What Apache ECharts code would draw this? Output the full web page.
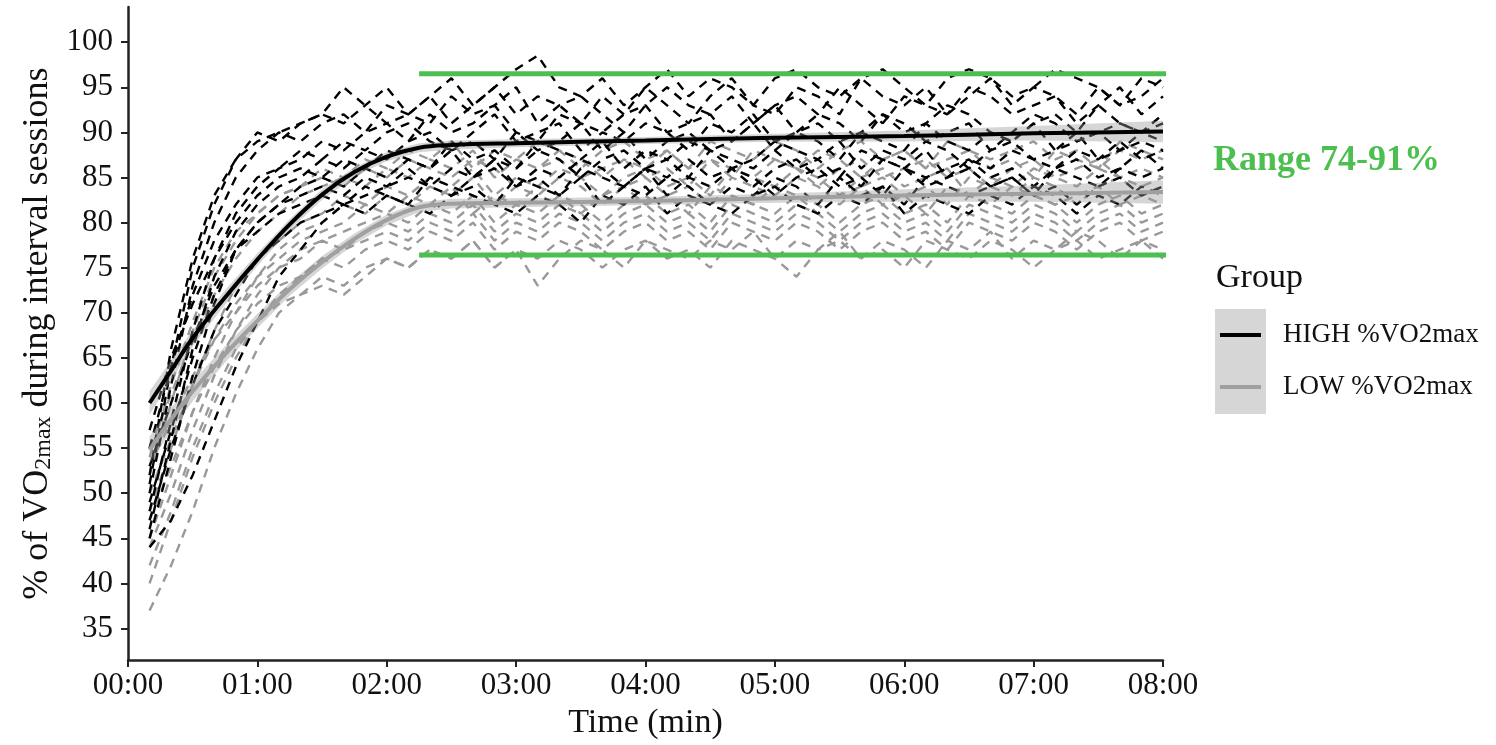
<!DOCTYPE html>
<html>
<head>
<meta charset="utf-8">
<title>%VO2max during interval sessions</title>
<script src="https://cdn.jsdelivr.net/npm/echarts@6/dist/echarts.min.js"></script>
<style>
  html, body { margin: 0; padding: 0; background: #fff; }
  #chart { width: 1496px; height: 745px; }
</style>
</head>
<body>
<div id="chart"></div>
<script>
// Sample times (seconds) for each interval session trace
const timeSec = [10,20,30,40,50,60,70,80,90,100,110,120,130,140,150,160,170,180,190,200,210,220,230,240,
                 250,260,270,280,290,300,310,320,330,340,350,360,370,380,390,400,410,420,430,440,450,460,470,480];

// HIGH %VO2max group: individual sessions (% of VO2max)
const highSessions = [
  [52,66,76,83,87,89,90,91,92,95,93,91,92,94,96,93,95,97,98.5,95,94,96,93,95,97,94,96,95,93,96,97,95,94,96,97,95,93,96,97,96,94,95,97,96,95,93,96,95],
  [50,62,73,80,85,88,90,89,91,92,90,93,92,91,94,92,93,95,91,93,94,92,90,93,95,93,92,94,91,93,94,92,95,93,91,94,93,92,95,94,92,93,94,91,93,95,92,94],
  [48,58,68,76,81,84,86,87,89,88,90,91,89,92,90,91,93,90,89,92,91,90,92,93,90,91,92,89,91,93,90,92,91,89,92,90,91,93,92,90,89,91,92,90,93,91,90,92],
  [55,64,72,78,82,85,86,88,87,89,88,90,91,89,88,90,92,89,90,91,88,90,89,91,90,88,91,90,92,89,90,91,89,90,92,91,89,90,91,88,90,92,91,89,90,91,90,89],
  [46,56,66,74,79,82,84,85,87,86,88,87,89,90,88,89,87,90,88,89,91,88,90,87,89,90,88,89,91,88,90,89,87,90,89,88,91,89,88,90,89,91,88,89,90,88,90,91],
  [57,65,71,76,80,83,85,86,85,87,86,88,87,86,89,87,88,86,89,88,87,89,86,88,87,89,88,86,87,89,88,87,89,86,88,87,89,88,86,88,89,87,88,90,87,88,89,88],
  [45,54,63,71,77,80,82,84,85,84,86,85,87,86,88,85,87,86,88,87,85,87,88,86,87,85,88,87,86,88,86,87,85,88,87,86,88,85,87,86,88,87,86,88,87,89,87,88],
  [44,47,52,58,64,69,74,77,80,82,83,84,85,84,86,85,87,84,86,85,87,86,84,86,85,87,85,86,84,86,87,85,86,84,87,86,85,86,87,85,86,84,86,87,85,86,88,86],
  [49,57,65,72,77,80,82,83,84,83,85,84,86,84,83,85,86,84,85,83,86,85,84,86,83,85,84,86,85,83,85,86,84,85,83,86,84,85,86,84,85,83,86,85,84,86,85,86],
  [53,60,67,73,77,79,81,82,83,82,84,83,82,85,84,83,82,85,84,83,85,82,84,83,85,84,82,84,83,85,84,82,85,83,84,82,85,84,83,84,85,83,84,82,84,85,83,84],
  [47,55,62,68,72,76,78,80,81,82,81,83,82,81,83,84,82,81,83,82,80,83,82,84,81,83,82,81,83,84,82,81,83,82,84,81,83,82,81,83,82,84,83,81,83,82,84,83],
  [51,64,75,82,87,90,89,91,92,91,93,95,92,94,91,93,95,92,94,93,91,94,92,95,93,91,94,96,93,92,95,94,92,96,94,93,95,92,94,96,93,95,94,92,95,93,94,96]
];

// LOW %VO2max group: individual sessions (% of VO2max)
const lowSessions = [
  [52,60,68,74,78,81,83,84,86,85,87,86,88,87,89,86,88,87,89,88,86,88,89,87,88,86,89,88,87,89,88,86,88,89,87,88,86,89,88,87,88,89,87,88,86,89,88,87],
  [55,61,67,72,76,79,81,83,84,85,84,86,85,87,86,88,85,87,86,88,87,85,87,86,88,86,87,85,88,87,86,88,87,85,87,88,86,87,88,86,87,85,88,87,86,88,87,88],
  [48,55,62,68,73,76,78,80,81,83,82,84,83,85,84,86,83,85,84,86,85,83,85,86,84,85,83,86,85,84,86,85,83,85,86,84,85,86,83,85,84,86,85,84,86,85,84,85],
  [45,52,59,65,70,74,77,79,80,82,81,83,82,84,83,85,82,84,83,85,84,82,84,85,83,84,82,85,84,83,85,84,82,84,85,83,84,82,85,84,83,85,84,82,84,85,83,84],
  [50,56,62,67,71,74,76,78,79,80,82,81,83,82,84,81,83,82,84,83,81,83,84,82,83,81,84,83,82,84,83,81,83,84,82,83,81,84,83,82,84,83,82,83,84,82,83,82],
  [44,50,57,63,68,72,75,77,78,79,80,81,80,82,81,83,80,82,81,83,82,80,82,83,81,82,80,83,82,81,83,82,80,82,83,81,82,80,83,82,81,83,82,80,82,83,81,82],
  [53,58,63,67,70,73,75,76,78,77,79,80,79,81,80,82,79,81,80,82,81,79,81,82,80,81,79,82,81,80,82,81,79,81,82,80,81,79,82,81,80,82,81,79,81,82,80,81],
  [40,47,54,60,65,69,72,74,76,77,78,79,78,80,79,81,78,80,79,81,80,78,80,81,79,80,78,81,80,79,81,80,78,80,81,79,80,78,81,80,79,81,80,78,80,81,79,80],
  [47,53,59,64,68,71,73,74,76,75,77,78,77,79,78,80,77,79,78,80,79,77,79,80,78,79,77,80,79,78,80,79,77,79,80,78,79,77,80,79,78,80,79,77,79,80,78,79],
  [37,42,48,55,61,66,70,72,73,72,74,76,75,77,76,78,75,77,73,76,78,77,75,78,77,76,78,77,79,76,78,77,79,76,78,77,75,78,77,79,76,78,77,79,78,76,78,77],
  [42,48,55,61,66,69,71,72,74,73,75,76,75,77,76,78,75,77,76,78,77,75,77,78,76,77,75,78,77,76,74,77,78,76,77,75,78,77,76,78,77,75,77,78,76,77,78,76],
  [54,62,69,75,79,81,83,84,85,84,86,85,87,86,85,87,86,84,86,87,85,86,87,85,86,84,87,86,85,87,86,84,86,87,85,86,87,85,86,84,86,87,85,86,87,85,86,85]
];

// Group trend lines with their confidence half-widths
const fitTime = [10,20,30,45,60,75,90,105,120,135,150,180,240,300,360,420,480];
const highFit = [60.0,63.6,67.2,71.7,75.9,79.8,83.1,85.6,87.3,88.3,88.6,88.8,89.1,89.4,89.6,89.9,90.1];
const highSe  = [1.3,1.1,0.9,0.8,0.7,0.6,0.6,0.5,0.5,0.5,0.5,0.45,0.4,0.45,0.6,0.8,1.2];
const lowFit  = [54.8,58.2,61.3,65.4,69.1,72.6,75.6,78.2,80.3,81.7,82.1,82.2,82.4,82.7,83.0,83.2,83.4];
const lowSe   = [1.5,1.3,1.1,0.9,0.8,0.7,0.7,0.6,0.6,0.55,0.55,0.5,0.45,0.5,0.7,0.9,1.3];

// Reference band for the plateau
const bandStart = 135, bandEnd = 503;
const bandLevels = [96.5, 76.4];
const bandLabel = 'Range 74-91%';

const yTicks = [35,40,45,50,55,60,65,70,75,80,85,90,95,100];
const groupNames = ['HIGH %VO2max', 'LOW %VO2max'];

const FONT = '"Liberation Serif", "DejaVu Serif", serif';
const GREEN = '#4cbf50';

function pad2(n) { return (n < 10 ? '0' : '') + n; }
function mmss(v) { return pad2(Math.floor(v / 60)) + ':' + pad2(v % 60); }
function pairs(xs, ys) { return xs.map((x, i) => [x, ys[i]]); }

const series = [];

// individual sessions, LOW first so HIGH sits on top
lowSessions.forEach((vals, k) => {
  series.push({
    type: 'line', name: 'low-' + k, data: pairs(timeSec, vals),
    showSymbol: false, silent: true, z: 2,
    lineStyle: { color: '#999', width: 2.4, type: [9, 7] }
  });
});
highSessions.forEach((vals, k) => {
  series.push({
    type: 'line', name: 'high-' + k, data: pairs(timeSec, vals),
    showSymbol: false, silent: true, z: 3,
    lineStyle: { color: '#000', width: 2.4, type: [9, 7] }
  });
});

// confidence ribbon drawn as one polygon through the axis scales
function ribbon(id, fit, se) {
  const rows = fitTime.map((t, i) => [t, fit[i] - se[i], fit[i] + se[i]]);
  series.push({
    type: 'custom', name: id, data: rows, silent: true, z: 4,
    encode: { x: 0, y: [1, 2] },
    renderItem: function (params, api) {
      if (params.dataIndex !== 0) return null;
      const upper = rows.map(r => api.coord([r[0], r[2]]));
      const lower = rows.map(r => api.coord([r[0], r[1]])).reverse();
      return {
        type: 'polygon',
        shape: { points: upper.concat(lower) },
        style: { fill: 'rgba(153,153,153,0.4)' }
      };
    }
  });
}
ribbon('lowBand', lowFit, lowSe);
ribbon('highBand', highFit, highSe);

series.push({
  type: 'line', name: groupNames[1], data: pairs(fitTime, lowFit), smooth: 0.4,
  showSymbol: false, silent: true, z: 5,
  lineStyle: { color: '#a0a0a0', width: 4 }
});
series.push({
  type: 'line', name: groupNames[0], data: pairs(fitTime, highFit), smooth: 0.4,
  showSymbol: false, silent: true, z: 6,
  lineStyle: { color: '#000', width: 4 }
});

// plateau reference lines (extend a little past the last tick)
bandLevels.forEach((lvl, k) => {
  series.push({
    type: 'line', name: 'ref-' + k, data: [[bandStart, lvl], [bandEnd, lvl]],
    showSymbol: false, silent: true, clip: false, z: 7,
    lineStyle: { color: GREEN, width: 5 }
  });
});

const chart = echarts.init(document.getElementById('chart'), null, { renderer: 'canvas' });
chart.setOption({
  animation: false,
  backgroundColor: '#fff',
  textStyle: { fontFamily: FONT },
  grid: { left: 128, right: 333, top: 7, bottom: 78, containLabel: false },
  xAxis: {
    type: 'value', min: 0, max: 480, interval: 60,
    name: 'Time (min)', nameLocation: 'middle', nameGap: 38,
    nameTextStyle: { fontFamily: FONT, fontSize: 34, color: '#111' },
    axisLine: { show: true, onZero: false, lineStyle: { color: '#222', width: 2.5 } },
    axisTick: { show: true, length: 7, lineStyle: { color: '#222', width: 2 } },
    axisLabel: { fontFamily: FONT, fontSize: 31, color: '#111', margin: 10, formatter: mmss },
    splitLine: { show: false }
  },
  yAxis: {
    type: 'value', min: 31.5, max: 103.9,
    name: '{m|% of VO}{s|2max}{m| during interval sessions}',
    nameLocation: 'middle', nameGap: 70, nameRotate: 90,
    nameTextStyle: {
      fontFamily: FONT, color: '#111',
      rich: {
        m: { fontFamily: FONT, fontSize: 36, lineHeight: 36, verticalAlign: 'top', color: '#111' },
        s: { fontFamily: FONT, fontSize: 24, lineHeight: 24, verticalAlign: 'bottom', padding: [16, 0, 0, 0], color: '#111' }
      }
    },
    axisLine: { show: true, onZero: false, lineStyle: { color: '#222', width: 2.5 } },
    axisTick: { show: true, length: 7, customValues: yTicks, lineStyle: { color: '#222', width: 2 } },
    axisLabel: { fontFamily: FONT, fontSize: 31, color: '#111', margin: 15, customValues: yTicks },
    splitLine: { show: false }
  },
  graphic: [
    { type: 'text', left: 1213, top: 143,
      style: { text: bandLabel, fill: GREEN, font: 'bold 36px ' + FONT } },
    { type: 'text', left: 1216, top: 261,
      style: { text: 'Group', fill: '#111', font: '34px ' + FONT } },
    { type: 'rect', shape: { x: 1215, y: 309, width: 51, height: 105 },
      style: { fill: '#d6d6d6' } },
    { type: 'line', shape: { x1: 1220, y1: 335, x2: 1261, y2: 335 },
      style: { stroke: '#000', lineWidth: 4 } },
    { type: 'line', shape: { x1: 1220, y1: 387, x2: 1261, y2: 387 },
      style: { stroke: '#a0a0a0', lineWidth: 4 } },
    { type: 'text', left: 1283, top: 321,
      style: { text: groupNames[0], fill: '#111', font: '27px ' + FONT } },
    { type: 'text', left: 1283, top: 373,
      style: { text: groupNames[1], fill: '#111', font: '27px ' + FONT } }
  ],
  series: series
});
</script>
</body>
</html>
